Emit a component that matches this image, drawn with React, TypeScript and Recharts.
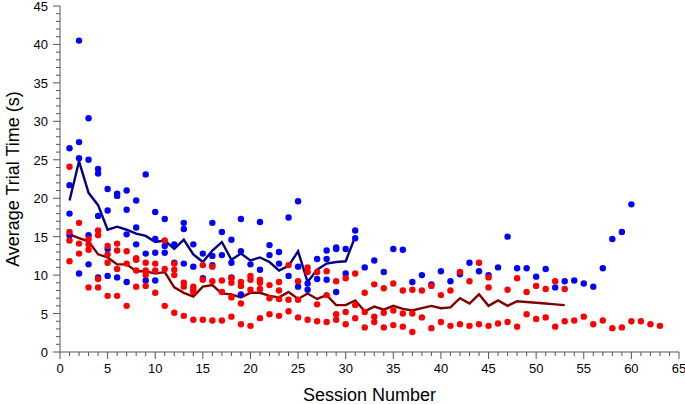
import React from 'react';
import { ComposedChart, Scatter, Line, XAxis, YAxis } from 'recharts';

// blue group: individual trial averages per session (session = index + 1)
const blueTrials: number[][] = [
  [26.5, 21.7, 18.0, 15.2],
  [40.5, 27.3, 25.2, 10.2],
  [30.4, 25.0, 15.2, 11.4],
  [23.8, 23.2, 17.7, 9.7],
  [21.2, 18.4, 13.4, 9.9],
  [20.6, 20.3, 9.7],
  [21.0, 18.5, 15.3, 9.1],
  [19.7, 16.2, 14.0],
  [23.1, 12.8, 9.3],
  [18.2, 14.7, 12.9, 9.3],
  [17.3, 13.8, 12.9],
  [14.0, 11.6],
  [16.8, 16.0, 11.5],
  [14.0, 11.1],
  [12.8, 9.6],
  [16.8, 12.5, 11.3],
  [15.6, 12.6],
  [14.6, 11.6, 9.7],
  [17.3, 13.1, 7.5],
  [11.4],
  [16.9, 10.7],
  [13.9, 12.6],
  [13.0, 11.5],
  [17.5, 9.9],
  [19.6, 11.1, 8.5],
  [8.9, 8.1],
  [12.1, 9.5],
  [13.2, 12.1, 9.4],
  [13.6, 13.4, 7.8],
  [13.4, 10.2],
  [15.8, 14.8],
  [11.0],
  [11.9],
  [10.4],
  [13.4],
  [13.3],
  [9.1],
  [10.0],
  [8.8],
  [10.5],
  [9.2],
  [10.1],
  [11.6],
  [10.5],
  [10.0],
  [11.0],
  [15.0],
  [10.9],
  [10.9],
  [9.8],
  [10.8],
  [8.4],
  [9.2],
  [9.3],
  [8.9],
  [8.5],
  [10.9],
  [14.7],
  [15.6],
  [19.2],
];

// red group
const redTrials: number[][] = [
  [24.1, 15.6, 14.5, 11.8],
  [16.8, 14.1, 12.8],
  [14.7, 14.0, 13.3, 8.4],
  [15.8, 15.2, 9.5, 8.4],
  [13.8, 12.7, 11.6, 7.3],
  [14.1, 13.2, 10.8, 7.3],
  [13.1, 11.5, 6.0],
  [12.2, 12.0, 10.6, 8.5],
  [11.6, 10.6, 10.0, 8.6],
  [11.5, 10.6, 7.7],
  [14.5, 10.8, 6.0],
  [11.5, 10.7, 10.0, 5.1],
  [9.0, 8.5, 4.7],
  [8.5, 8.1, 7.8, 4.2],
  [11.3, 9.4, 4.2],
  [11.1, 9.2, 4.1],
  [9.3, 7.8, 4.1],
  [9.6, 9.0, 7.1, 4.6],
  [9.1, 8.6, 6.3, 3.6],
  [9.9, 9.4, 8.1, 3.4],
  [9.4, 9.0, 8.2, 4.4],
  [8.7, 7.0, 4.9],
  [9.1, 8.0, 6.9, 4.7],
  [11.3, 6.8, 5.3],
  [9.2, 6.8, 4.5],
  [11.0, 10.4, 4.2],
  [10.4, 6.2, 4.0],
  [10.5, 7.4, 3.9],
  [9.2, 4.9, 4.2],
  [9.6, 5.2, 3.6],
  [10.2, 6.1, 4.4],
  [7.7, 5.2, 3.2],
  [8.8, 4.6, 3.9],
  [8.3, 5.1, 3.2],
  [8.9, 5.4, 3.5],
  [8.0, 5.0, 3.3],
  [8.1, 5.0, 2.6],
  [8.0, 4.5],
  [8.6, 3.1],
  [7.4, 3.9],
  [8.0, 3.4],
  [10.4, 3.6],
  [9.2, 3.4],
  [11.6, 3.6],
  [9.7, 8.4, 3.4],
  [3.7],
  [8.1, 3.9],
  [9.6, 3.3],
  [7.8, 4.9],
  [8.6, 4.3],
  [8.2, 4.5],
  [9.2, 3.3],
  [8.2, 4.0],
  [4.1],
  [4.6],
  [3.6],
  [4.1],
  [3.1],
  [3.2],
  [4.0],
  [4.0],
  [3.6],
  [3.4],
];

// session means
const blueMean = [
  19.7, 24.8, 20.7, 19.1, 15.9, 16.3, 15.9, 15.4, 15.1, 14.3,
  14.5, 13.4, 14.6, 12.7, 11.7, 13.2, 14.3, 12.0, 12.8, 11.9,
  12.3, 11.7, 10.6, 11.2, 13.1, 9.1, 10.7, 11.5, 11.7, 11.8,
  15.0,
];
const redMean = [
  15.3, 14.8, 14.4, 12.7, 12.3, 11.4, 11.4, 10.5, 10.5, 10.2,
  10.4, 8.4, 7.7, 7.2, 8.5, 8.7, 7.6, 7.5, 7.1, 7.7,
  7.7, 7.3, 7.1, 7.8, 6.9, 7.6, 6.9, 7.4, 6.1, 6.1,
  6.7, 5.3, 5.9, 5.5, 6.0, 5.6, 5.4, 5.7, 6.0, 5.7,
  5.8, 7.0, 6.3, 7.5, 6.0, 6.7, 6.0, 6.6, 6.5, 6.4,
  6.3, 6.2, 6.1,
];

const xTicks = Array.from({ length: 66 }, (_, i) => i);
const yTicks = Array.from({ length: 46 }, (_, i) => i);

const toPoints = (rows: number[][]) =>
  rows.flatMap((vals, i) => vals.map((v) => ({ x: i + 1, y: v })));
const toLine = (vals: number[]) => vals.map((v, i) => ({ x: i + 1, y: v }));

const bluePoints = toPoints(blueTrials);
const redPoints = toPoints(redTrials);

const AXIS = '#555';
const tickFont = "'Liberation Sans Narrow', 'Liberation Sans', Arial, sans-serif";
const titleFont = "'Liberation Sans', Arial, sans-serif";

const XTick = (props: any) => {
  const { x, y, payload } = props;
  const major = payload.value % 5 === 0;
  return (
    <g>
      <line x1={x} x2={x} y1={y} y2={y + (major ? 7 : 4)} stroke={AXIS} />
      {major && (
        <text x={x} y={y + 21} textAnchor="middle" fontSize={13} fontFamily={tickFont} fill="#000">
          {payload.value}
        </text>
      )}
    </g>
  );
};

const YTick = (props: any) => {
  const { x, y, payload } = props;
  const major = payload.value % 5 === 0;
  return (
    <g>
      <line x1={x} x2={x - (major ? 7 : 4)} y1={y} y2={y} stroke={AXIS} />
      {major && (
        <text x={x - 12} y={y + 5} textAnchor="end" fontSize={13} fontFamily={tickFont} fill="#000">
          {payload.value}
        </text>
      )}
    </g>
  );
};

const YTitle = (props: any) => {
  const vb = props.viewBox || {};
  const cy = (vb.y ?? 5) + (vb.height ?? 347) / 2;
  return (
    <text
      x={13}
      y={cy}
      transform={`rotate(-90, 13, ${cy})`}
      textAnchor="middle"
      dominantBaseline="central"
      fontSize={18}
      fontFamily={titleFont}
      fill="#000"
    >
      Average Trial Time (s)
    </text>
  );
};

const dot = (color: string) => (p: any) => <circle cx={p.cx} cy={p.cy} r={3.2} fill={color} />;

export default function App() {
  return (
    <div style={{ position: 'absolute', left: 0, top: 0, width: 685, height: 404, background: '#fff' }}>
      <ComposedChart width={685} height={404} margin={{ top: 6, right: 6, bottom: 0, left: 0 }}>
        <XAxis
          type="number"
          dataKey="x"
          domain={[0, 65]}
          ticks={xTicks}
          interval={0}
          height={52}
          tickSize={0}
          tickMargin={0}
          tickLine={false}
          tick={<XTick />}
          axisLine={{ stroke: AXIS }}
          label={{ value: 'Session Number', position: 'insideBottom', offset: 3, fontSize: 18, fontFamily: titleFont, fill: '#000' }}
        />
        <YAxis
          type="number"
          dataKey="y"
          domain={[0, 45]}
          ticks={yTicks}
          interval={0}
          width={60}
          tickSize={0}
          tickMargin={0}
          tickLine={false}
          tick={<YTick />}
          axisLine={{ stroke: AXIS }}
          label={<YTitle />}
        />
        <Scatter data={bluePoints} dataKey="y" shape={dot('#0000ff')} isAnimationActive={false} />
        <Scatter data={redPoints} dataKey="y" shape={dot('#ff0000')} isAnimationActive={false} />
        <Line data={toLine(blueMean)} dataKey="y" type="linear" stroke="#000080" strokeWidth={2.4} dot={false} isAnimationActive={false} />
        <Line data={toLine(redMean)} dataKey="y" type="linear" stroke="#800000" strokeWidth={2.4} dot={false} isAnimationActive={false} />
      </ComposedChart>
    </div>
  );
}
